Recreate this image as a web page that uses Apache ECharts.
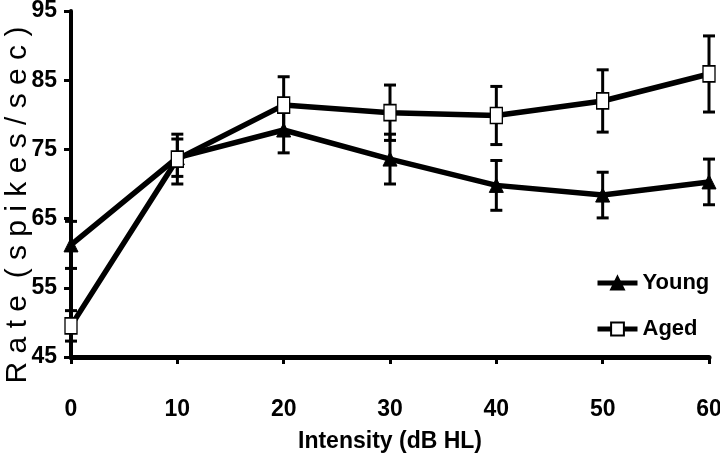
<!DOCTYPE html>
<html>
<head>
<meta charset="utf-8">
<script src="https://cdn.jsdelivr.net/npm/echarts@6/dist/echarts.min.js"></script>
<style>
html,body{margin:0;padding:0;background:#fff;}
#chart{width:720px;height:465px;}
</style>
</head>
<body>
<div id="chart"></div>
<script>
var intensity = [0, 10, 20, 30, 40, 50, 60];
var youngMean = [61.2, 73.8, 77.8, 73.6, 69.8, 68.4, 70.3];
var youngErr  = [3.4, 2.7, 3.3, 3.6, 3.6, 3.3, 3.3];
var agedMean  = [49.5, 73.6, 81.4, 80.3, 79.9, 82.0, 85.9];
var agedErr   = [2.2, 3.6, 4.1, 4.0, 4.2, 4.5, 5.5];
var xTicks = [0, 10, 20, 30, 40, 50, 60];
var yTicks = [45, 55, 65, 75, 85, 95];

var boldFont = '"Liberation Sans", Arial, sans-serif';

function pairs(xs, ys) { return xs.map(function (x, i) { return [x, ys[i]]; }); }
function errRows(xs, m, e) { return xs.map(function (x, i) { return [x, m[i] - e[i], m[i] + e[i]]; }); }

function errItem(params, api) {
  var x = api.value(0);
  var lo = api.coord([x, api.value(1)]);
  var hi = api.coord([x, api.value(2)]);
  var w = 6;
  var st = { stroke: '#000', lineWidth: 3 };
  return {
    type: 'group',
    children: [
      { type: 'line', shape: { x1: lo[0], y1: lo[1], x2: hi[0], y2: hi[1] }, style: st },
      { type: 'line', shape: { x1: lo[0] - w, y1: lo[1], x2: lo[0] + w, y2: lo[1] }, style: st },
      { type: 'line', shape: { x1: hi[0] - w, y1: hi[1], x2: hi[0] + w, y2: hi[1] }, style: st }
    ]
  };
}

var chart = echarts.init(document.getElementById('chart'), null, { renderer: 'canvas' });
chart.setOption({
  animation: false,
  backgroundColor: '#fff',
  grid: { left: 71, right: 11, top: 11, bottom: 108, containLabel: false, outerBoundsMode: 'none' },
  xAxis: {
    type: 'value', min: xTicks[0], max: xTicks[xTicks.length - 1], interval: 10,
    name: 'Intensity (dB HL)', nameLocation: 'middle', nameGap: 73, nameMoveOverlap: false,
    nameTextStyle: { fontFamily: boldFont, fontWeight: 'bold', fontSize: 23, color: '#000' },
    axisLine: { onZero: false, lineStyle: { color: '#000', width: 5 } },
    axisTick: { show: true, length: 7, lineStyle: { color: '#000', width: 3 } },
    axisLabel: { margin: 41, fontFamily: boldFont, fontWeight: 'bold', fontSize: 23, color: '#000' },
    splitLine: { show: false }
  },
  yAxis: {
    type: 'value', min: yTicks[0], max: yTicks[yTicks.length - 1], interval: 10,
    name: 'R a t e  ( s p i k e s / s e c )', nameLocation: 'middle', nameGap: 38, nameRotate: 90,
    nameMoveOverlap: false,
    nameTextStyle: { fontFamily: '"Liberation Sans", Arial, sans-serif', fontSize: 30, color: '#000', padding: [0, 42, 0, 0] },
    axisLine: { onZero: false, lineStyle: { color: '#000', width: 4 } },
    axisTick: { show: true, length: 7, lineStyle: { color: '#000', width: 3 } },
    axisLabel: { margin: 14, fontFamily: boldFont, fontWeight: 'bold', fontSize: 23, color: '#000' },
    splitLine: { show: false }
  },
  legend: {
    orient: 'vertical', left: 595, top: 272, itemGap: 24, padding: 0,
    itemWidth: 40, itemHeight: 16,
    lineStyle: { width: 5, color: '#000' },
    textStyle: { fontFamily: boldFont, fontWeight: 'bold', fontSize: 22, color: '#000' },
    data: ['Young', 'Aged']
  },
  series: [
    {
      type: 'custom', name: 'YoungErr', renderItem: errItem, z: 1, clip: false,
      encode: { x: 0, y: [1, 2] }, data: errRows(intensity, youngMean, youngErr)
    },
    {
      type: 'custom', name: 'AgedErr', renderItem: errItem, z: 1, clip: false,
      encode: { x: 0, y: [1, 2] }, data: errRows(intensity, agedMean, agedErr)
    },
    {
      type: 'line', name: 'Young', z: 3, clip: false,
      data: pairs(intensity, youngMean),
      symbol: 'triangle', symbolSize: [14, 14], showAllSymbol: true,
      lineStyle: { color: '#000', width: 5.5 },
      itemStyle: { color: '#000', borderColor: '#000', borderWidth: 1 }
    },
    {
      type: 'line', name: 'Aged', z: 4, clip: false,
      data: pairs(intensity, agedMean),
      symbol: 'rect', symbolSize: [12, 16], showAllSymbol: true,
      lineStyle: { color: '#000', width: 5.5 },
      itemStyle: { color: '#fff', borderColor: '#000', borderWidth: 1.5 }
    }
  ]
});
</script>
</body>
</html>
